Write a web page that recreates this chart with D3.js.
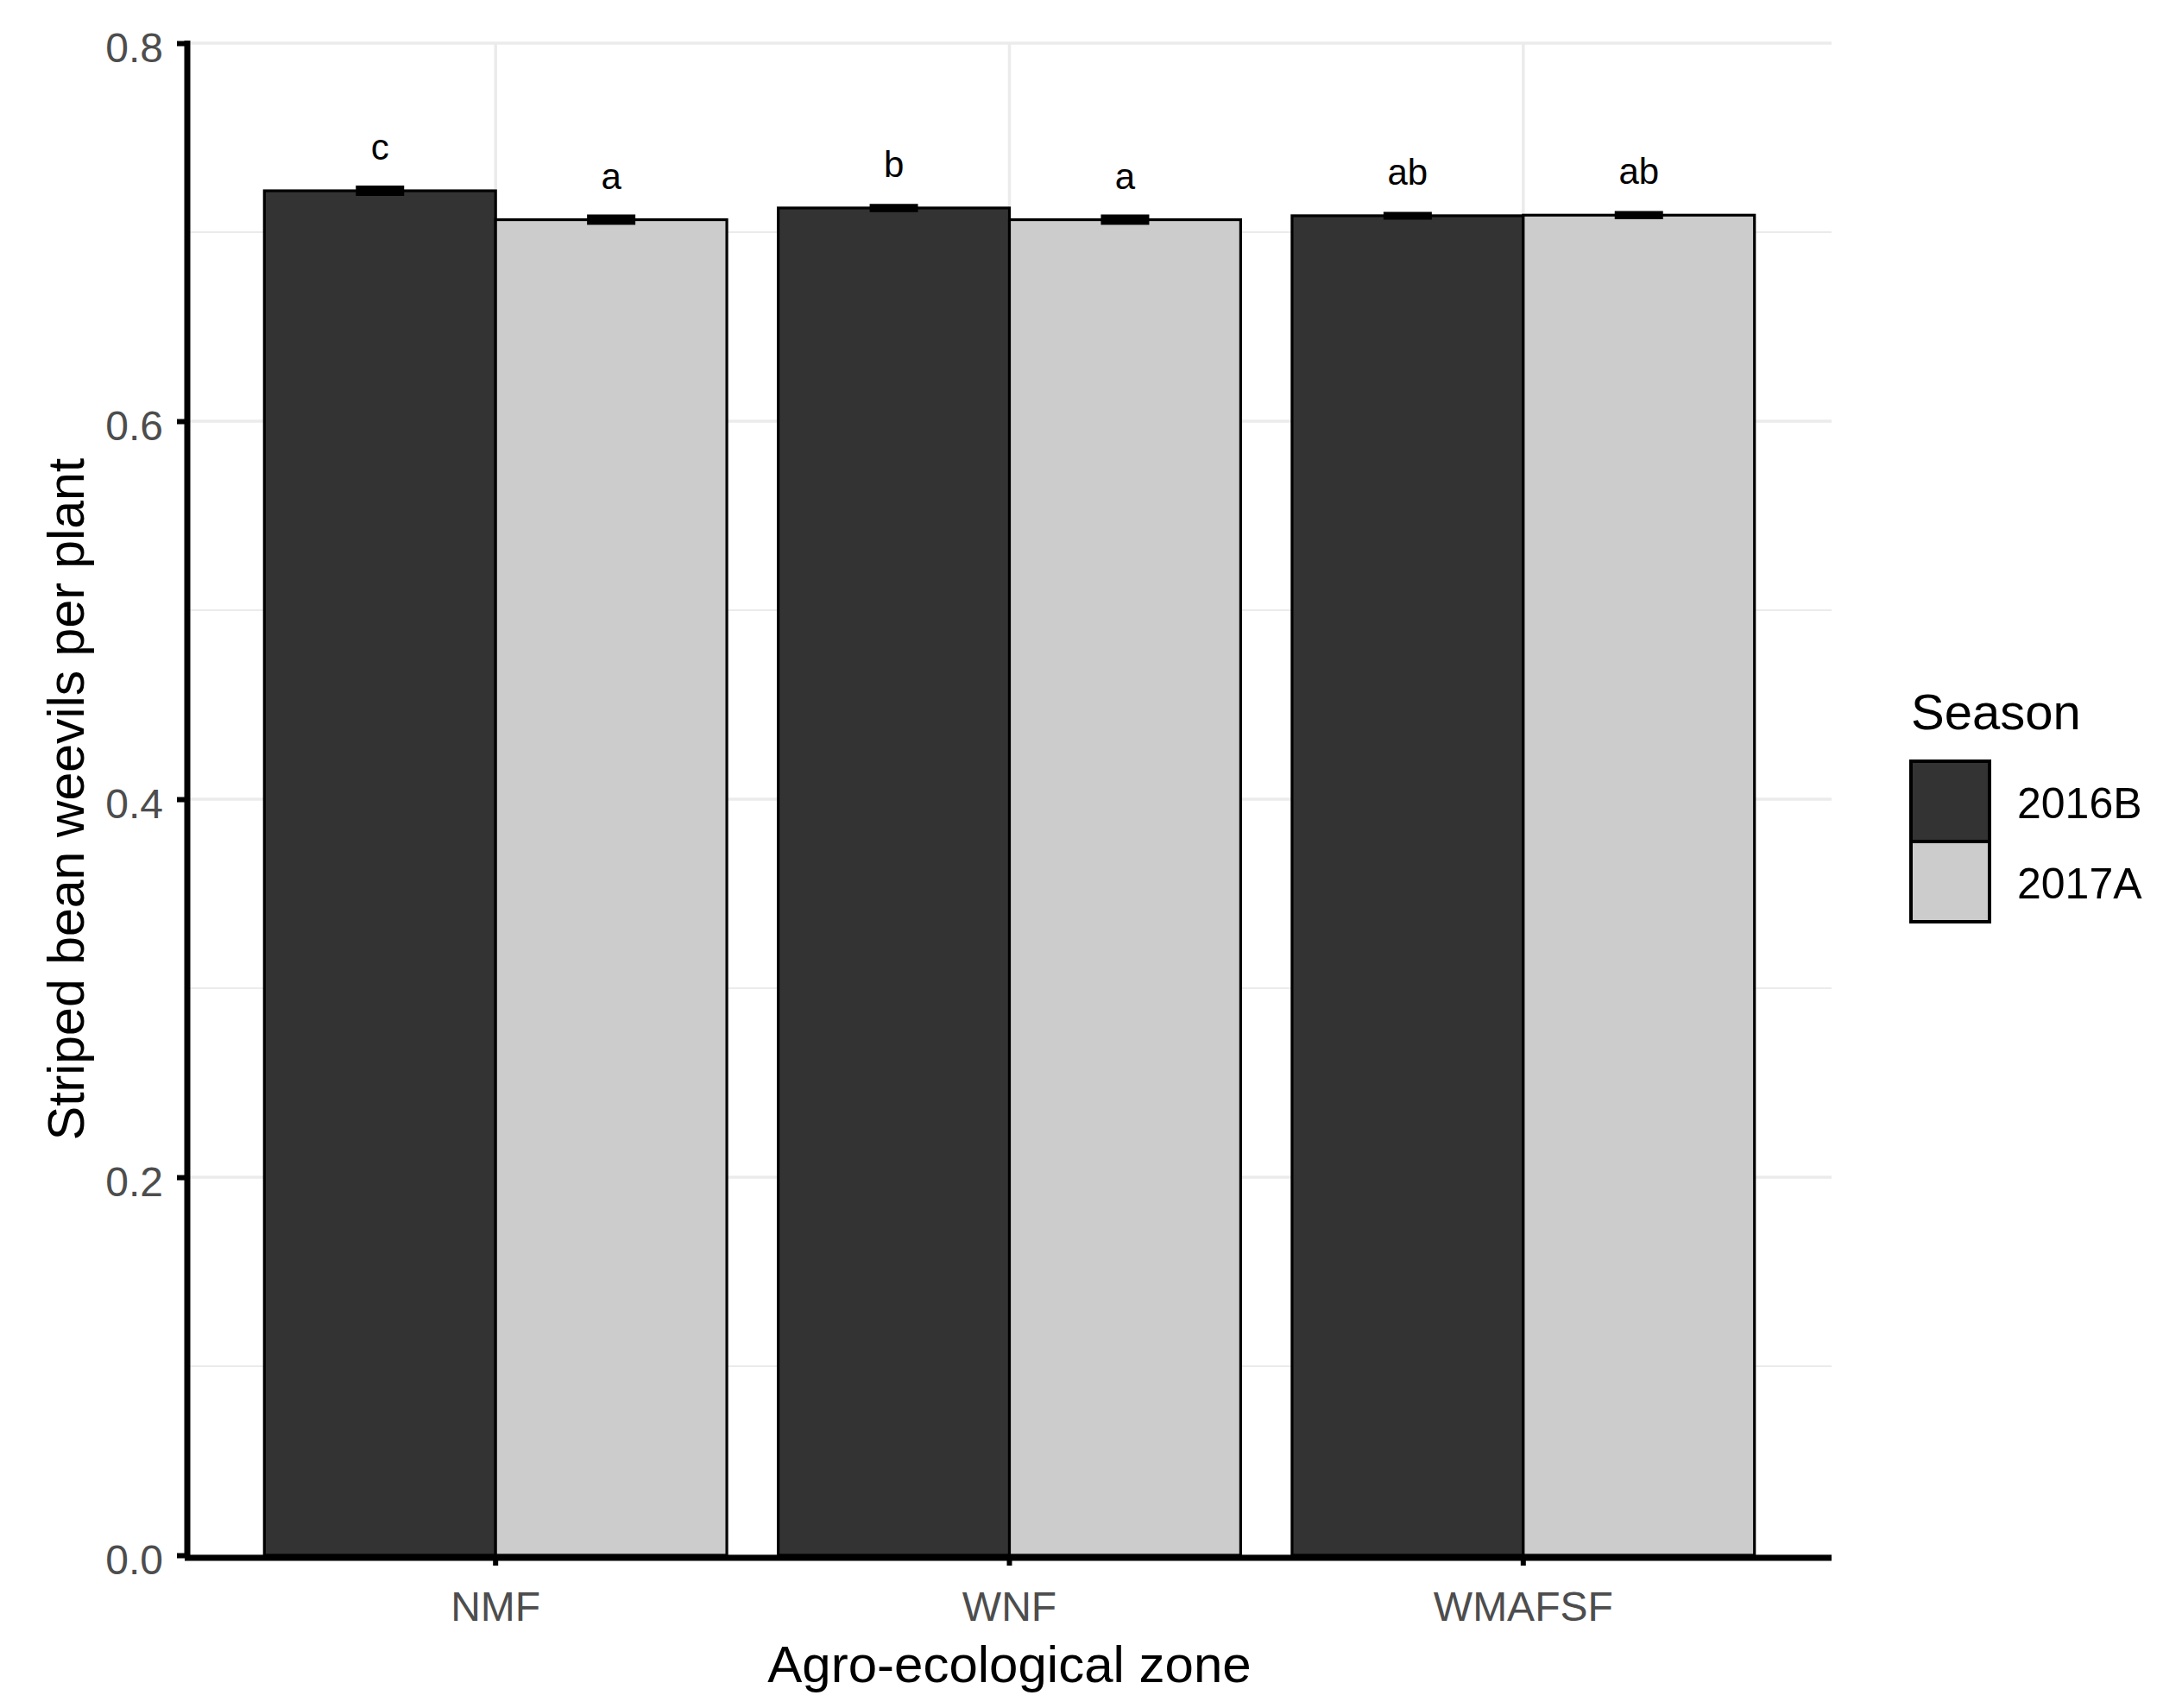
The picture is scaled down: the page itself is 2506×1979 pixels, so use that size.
<!DOCTYPE html>
<html>
<head>
<meta charset="utf-8">
<script src="https://cdn.jsdelivr.net/npm/d3@7"></script>
<style>
  html, body { margin: 0; padding: 0; background: #ffffff; }
  svg { display: block; }
  text { font-family: "Liberation Sans", Arial, sans-serif; }
</style>
</head>
<body>
<svg id="chart" width="2506" height="1979"></svg>
<script>
// ---- data ----
const zones = ["NMF", "WNF", "WMAFSF"];
const seasons = ["2016B", "2017A"];
const values2016B = [0.7219, 0.7128, 0.7087];
const values2017A = [0.7066, 0.7066, 0.7090];
const se2016B = [0.0016, 0.0010, 0.0009];
const se2017A = [0.0016, 0.0016, 0.0010];
const letters2016B = ["c", "b", "ab"];
const letters2017A = ["a", "a", "ab"];
const yTicks = [0.0, 0.2, 0.4, 0.6, 0.8];
const yMinor = [0.1, 0.3, 0.5, 0.7];
const seasonColors = ["#333333", "#cccccc"];
const xTitle = "Agro-ecological zone";
const yTitle = "Striped bean weevils per plant";
const legendTitle = "Season";

const rows = [];
zones.forEach((z, i) => {
  rows.push({zone: z, season: seasons[0], value: values2016B[i], se: se2016B[i], letter: letters2016B[i]});
  rows.push({zone: z, season: seasons[1], value: values2017A[i], se: se2017A[i], letter: letters2017A[i]});
});

// ---- layout ----
const svg = d3.select("#chart");
const panel = {left: 217, right: 2122, top: 50, bottom: 1802};

const x = d3.scaleBand().domain(zones).range([panel.left, panel.right])
  .paddingInner(0.1).paddingOuter(0.15);
const xs = d3.scaleBand().domain(seasons).range([0, x.bandwidth()]).padding(0);
const y = d3.scaleLinear().domain([0, 0.8]).range([panel.bottom, panel.top]);
const color = d3.scaleOrdinal().domain(seasons).range(seasonColors);

svg.append("rect").attr("width", 2506).attr("height", 1979).attr("fill", "#ffffff");

// grid
const grid = svg.append("g");
grid.selectAll(".minor").data(yMinor).join("line")
  .attr("x1", panel.left).attr("x2", panel.right)
  .attr("y1", d => y(d)).attr("y2", d => y(d))
  .attr("stroke", "#ebebeb").attr("stroke-width", 2);
grid.selectAll(".major").data(yTicks).join("line")
  .attr("x1", panel.left).attr("x2", panel.right)
  .attr("y1", d => y(d)).attr("y2", d => y(d))
  .attr("stroke", "#ebebeb").attr("stroke-width", 3.5);
grid.selectAll(".vmajor").data(zones).join("line")
  .attr("x1", d => x(d) + x.bandwidth() / 2).attr("x2", d => x(d) + x.bandwidth() / 2)
  .attr("y1", panel.top).attr("y2", panel.bottom)
  .attr("stroke", "#ebebeb").attr("stroke-width", 3.5);

// bars
const barX = d => x(d.zone) + xs(d.season);
svg.append("g").selectAll("rect").data(rows).join("rect")
  .attr("x", barX)
  .attr("width", xs.bandwidth())
  .attr("y", d => y(d.value))
  .attr("height", d => y(0) - y(d.value))
  .attr("fill", d => color(d.season))
  .attr("stroke", "#000000").attr("stroke-width", 3.2);

// error bars
const eb = svg.append("g").attr("stroke", "#000000").attr("stroke-width", 5);
const ebHalf = 28;
rows.forEach(d => {
  const cx = barX(d) + xs.bandwidth() / 2;
  const yt = y(d.value + d.se), yb = y(d.value - d.se);
  eb.append("line").attr("x1", cx - ebHalf).attr("x2", cx + ebHalf).attr("y1", yt).attr("y2", yt);
  eb.append("line").attr("x1", cx - ebHalf).attr("x2", cx + ebHalf).attr("y1", yb).attr("y2", yb);
  eb.append("line").attr("x1", cx).attr("x2", cx).attr("y1", yt).attr("y2", yb);
});

// significance letters
svg.append("g").selectAll("text").data(rows).join("text")
  .attr("x", d => barX(d) + xs.bandwidth() / 2)
  .attr("y", d => y(d.value) - 36)
  .attr("text-anchor", "middle")
  .attr("font-size", 42).attr("fill", "#000000")
  .text(d => d.letter);

// axes
const yAxis = d3.axisLeft(y).tickValues(yTicks).tickFormat(d3.format(".1f")).tickSize(12).tickPadding(16);
const gy = svg.append("g").attr("transform", `translate(${panel.left},0)`).call(yAxis);
gy.select(".domain").remove();
gy.selectAll(".tick line").attr("stroke", "#000000").attr("stroke-width", 6);
gy.selectAll(".tick text").attr("font-size", 48).attr("fill", "#4d4d4d")
  .attr("font-family", "'Liberation Sans', Arial, sans-serif").attr("dy", "0.45em");

const xAxis = d3.axisBottom(x).tickSize(12).tickPadding(12);
const gx = svg.append("g").attr("transform", `translate(0,${panel.bottom})`).call(xAxis);
gx.select(".domain").remove();
gx.selectAll(".tick line").attr("stroke", "#000000").attr("stroke-width", 6);
gx.selectAll(".tick text").attr("font-size", 48).attr("fill", "#4d4d4d")
  .attr("font-family", "'Liberation Sans', Arial, sans-serif")
  .attr("dy", null).attr("y", 0).attr("dominant-baseline", "alphabetic")
  .attr("transform", "translate(0,76)");

// axis lines
svg.append("line").attr("x1", panel.left).attr("x2", panel.left)
  .attr("y1", panel.top - 3).attr("y2", panel.bottom + 3)
  .attr("stroke", "#000000").attr("stroke-width", 7);
svg.append("line").attr("x1", panel.left - 3).attr("x2", panel.right)
  .attr("y1", panel.bottom + 3).attr("y2", panel.bottom + 3)
  .attr("stroke", "#000000").attr("stroke-width", 7);

// titles
svg.append("text")
  .attr("x", (panel.left + panel.right) / 2).attr("y", 1949)
  .attr("text-anchor", "middle").attr("font-size", 60).attr("fill", "#000000")
  .text(xTitle);
svg.append("text")
  .attr("transform", `translate(97,${(panel.top + panel.bottom) / 2}) rotate(-90)`)
  .attr("text-anchor", "middle").attr("font-size", 59).attr("fill", "#000000")
  .text(yTitle);

// legend
const lg = svg.append("g");
lg.append("text").attr("x", 2214).attr("y", 845).attr("font-size", 58).attr("fill", "#000000").text(legendTitle);
const keyH = 93, keyW = 91, keyTop = 882, keyLeft = 2214;
seasons.forEach((s, i) => {
  lg.append("rect").attr("x", keyLeft).attr("y", keyTop + i * keyH)
    .attr("width", keyW).attr("height", keyH)
    .attr("fill", color(s)).attr("stroke", "#000000").attr("stroke-width", 4);
  lg.append("text").attr("x", 2337).attr("y", keyTop + i * keyH + keyH / 2 + 19)
    .attr("font-size", 50).attr("fill", "#000000").text(s);
});
</script>
</body>
</html>
